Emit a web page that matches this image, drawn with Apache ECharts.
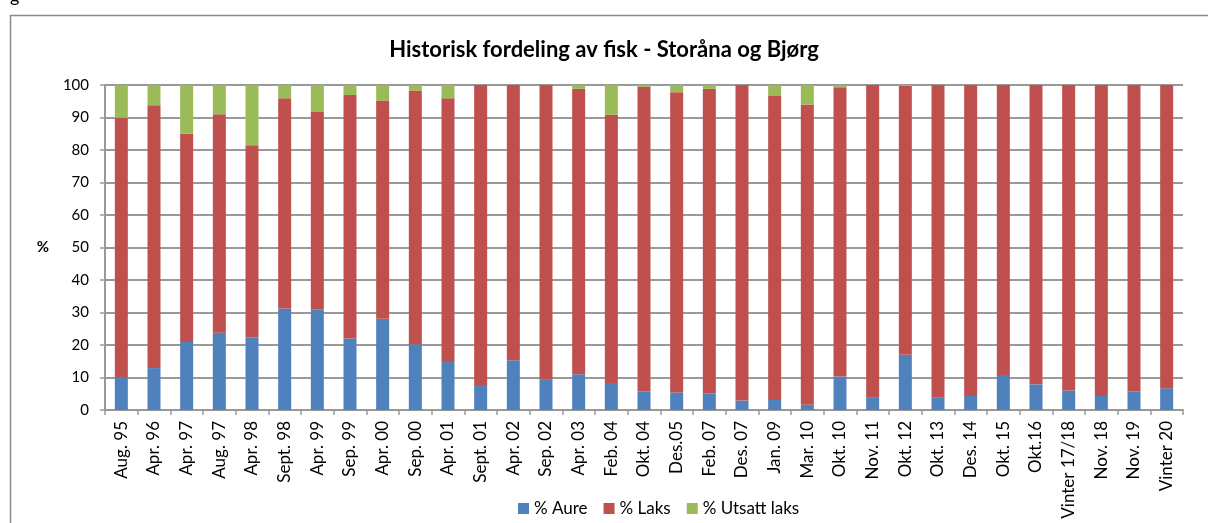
<!DOCTYPE html>
<html>
<head>
<meta charset="utf-8">
<script src="https://cdn.jsdelivr.net/npm/echarts@6/dist/echarts.min.js"></script>
<style>
  html, body { margin: 0; padding: 0; background: #fff; }
  #chart { width: 1208px; height: 523px; }
</style>
</head>
<body>
<div id="chart"></div>
<script>
// Kategorier (prøvetidspunkt)
const categories = [
  "Aug. 95", "Apr. 96", "Apr. 97", "Aug. 97", "Apr. 98", "Sept. 98", "Apr. 99",
  "Sep. 99", "Apr. 00", "Sep. 00", "Apr. 01", "Sept. 01", "Apr. 02", "Sep. 02",
  "Apr. 03", "Feb. 04", "Okt. 04", "Des.05", "Feb. 07", "Des. 07", "Jan. 09",
  "Mar. 10", "Okt. 10", "Nov. 11", "Okt. 12", "Okt. 13", "Des. 14", "Okt. 15",
  "Okt.16", "Vinter 17/18", "Nov. 18", "Nov. 19", "Vinter 20"
];

// Andeler i prosent, lest av figuren
const aure = [
  9.9, 12.9, 20.9, 23.8, 22.3, 31.2, 30.9, 22.0, 28.1, 20.2, 15.1,
  7.7, 15.3, 9.5, 11.0, 8.3, 5.7, 5.4, 5.1, 2.9, 3.1, 1.6,
  10.3, 3.8, 17.0, 3.8, 4.3, 10.8, 7.9, 6.0, 4.3, 5.7, 6.7
];
const laks = [
  80.0, 80.9, 64.1, 67.2, 59.2, 64.7, 60.8, 74.9, 67.1, 78.1, 80.8,
  92.3, 84.7, 90.5, 87.8, 82.5, 93.7, 92.4, 93.7, 97.1, 93.5, 92.4,
  89.0, 96.2, 82.7, 96.2, 95.7, 89.2, 92.1, 94.0, 95.7, 94.3, 93.3
];
const utsatt = [
  10.1, 6.2, 15.0, 9.0, 18.5, 4.1, 8.3, 3.1, 4.8, 1.7, 4.1,
  0, 0, 0, 1.2, 9.2, 0.6, 2.2, 1.2, 0, 3.4, 6.0,
  0.7, 0, 0.3, 0, 0, 0, 0, 0, 0, 0, 0
];

const fontFam = 'Lato, "Open Sans", sans-serif';
const gridGray = "#999999";

const dom = document.getElementById("chart");
const myChart = echarts.init(dom, undefined, { renderer: "canvas" });

const option = {
  animation: false,
  textStyle: { fontFamily: fontFam },
  title: {
    text: "Historisk fordeling av fisk - Storåna og Bjørg",
    left: "center",
    top: 34,
    textStyle: { fontFamily: fontFam, fontSize: 22, fontWeight: "bold", color: "#000" }
  },
  legend: {
    bottom: 1,
    left: 513,
    icon: "rect",
    itemWidth: 11,
    itemHeight: 11,
    itemGap: 16,
    textStyle: { fontFamily: fontFam, fontSize: 17, color: "#000" },
    data: ["% Aure", "% Laks", "% Utsatt laks"]
  },
  grid: {
    left: 105, right: 25, top: 85, bottom: 113,
    containLabel: false, outerBoundsMode: "none"
  },
  xAxis: {
    type: "category",
    data: categories,
    axisLine: { lineStyle: { color: gridGray, width: 2 } },
    axisTick: { show: true, alignWithLabel: false, length: 5, lineStyle: { color: gridGray, width: 1.5 } },
    axisLabel: {
      interval: 0,
      rotate: 90,
      margin: 11,
      fontFamily: fontFam,
      fontSize: 17,
      color: "#000"
    }
  },
  yAxis: {
    type: "value",
    min: 0,
    max: 100,
    interval: 10,
    name: "%",
    nameLocation: "middle",
    nameRotate: 0,
    nameGap: 56,
    nameTextStyle: { fontFamily: fontFam, fontSize: 15, fontWeight: "bold", color: "#000" },
    axisLine: { show: true, lineStyle: { color: gridGray, width: 2 } },
    axisTick: { show: true, length: 5, lineStyle: { color: gridGray, width: 1.5 } },
    axisLabel: { fontFamily: fontFam, fontSize: 15, color: "#000", margin: 16 },
    splitLine: { lineStyle: { color: gridGray, width: 2 } }
  },
  series: [
    {
      name: "% Aure", type: "bar", stack: "fisk", barWidth: 13,
      itemStyle: { color: "#4F81BD" }, data: aure
    },
    {
      name: "% Laks", type: "bar", stack: "fisk", barWidth: 13,
      itemStyle: { color: "#C0504D" }, data: laks
    },
    {
      name: "% Utsatt laks", type: "bar", stack: "fisk", barWidth: 13,
      itemStyle: { color: "#9BBB59" }, data: utsatt
    }
  ],
  graphic: [
    {
      type: "rect",
      shape: { x: 10.5, y: 15.5, width: 1400, height: 700 },
      style: { fill: null, stroke: "#8c8c8c", lineWidth: 1.5 },
      silent: true
    },
    {
      type: "text",
      left: 10,
      top: -13,
      style: { text: "g", font: "18px " + fontFam, fill: "#000" },
      silent: true
    }
  ]
};

myChart.setOption(option);
</script>
</body>
</html>
